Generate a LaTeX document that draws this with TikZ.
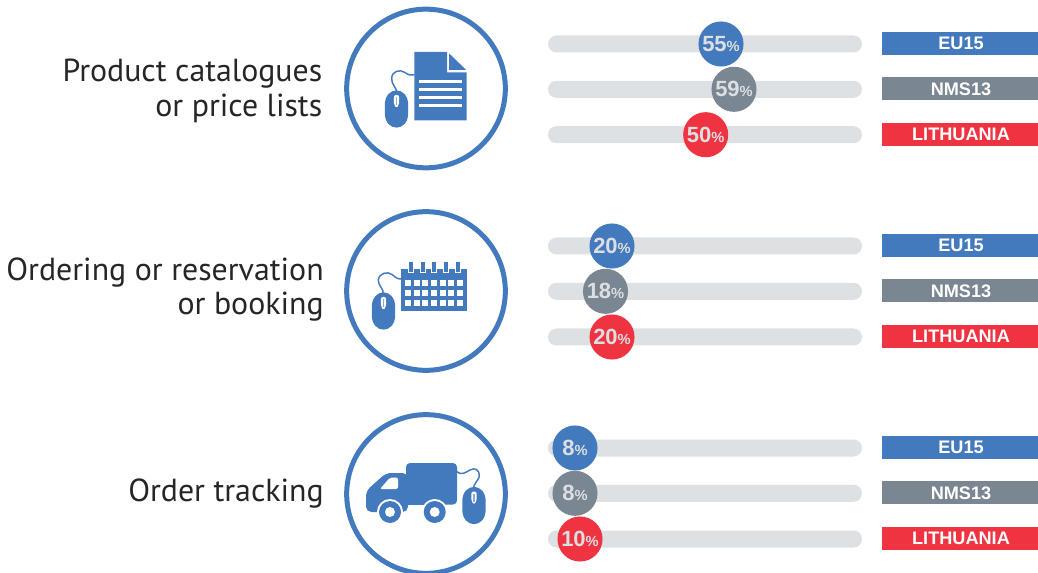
\documentclass[tikz,border=0pt]{standalone}
\usepackage{fontspec}
\setmainfont{Liberation Sans}
\newfontfamily\headf{PT Sans}
\definecolor{cblue}{HTML}{4379BD}
\definecolor{cgrey}{HTML}{7A8692}
\definecolor{cred}{HTML}{EF3340}
\definecolor{cbar}{HTML}{DEE1E4}
\definecolor{cpct}{HTML}{DCDFE2}
\tikzset{
 x=0.75pt,y=-0.75pt,
 ring/.style={circle,draw=cblue,line width=3.75pt,minimum size=119pt,inner sep=0pt},
 track/.style={fill=cbar,rounded corners=6.3pt},
 dot/.style={circle,minimum size=33.8pt,inner sep=0pt,text=cpct,font=\fontsize{16.5}{16.5}\selectfont\bfseries},
 tag/.style={minimum width=117pt,minimum height=17.25pt,inner sep=0pt,text=white,font=\fontsize{13.6}{13.6}\selectfont\bfseries},
 head/.style={align=right,anchor=east,inner sep=0pt,font=\headf\fontsize{23.9}{26}\selectfont,text=black!85},
 wire/.style={draw=cblue,line width=1.1pt},
}
\newcommand{\pctlabel}[1]{#1{\fontsize{11}{11}\selectfont\%}}
\newcommand{\barrow}[6]{%
 \fill[track] (548,#1-8.5) rectangle (862,#1+8.5);
 \node[dot,fill=#3] (#5) at (#2,#1) {\pctlabel{#4}};
 \node[tag,fill=#3] (#5t) at (960,#1-0.5) {\hspace*{1.5pt}#6};
}
\newcommand{\mouseicon}[2]{%
 \begin{scope}[shift={(#1,#2)}]
  \fill[cblue] (-11.7,-4) .. controls (-11.7,-23.5) and (11.7,-23.5) .. (11.7,-4) -- (11.7,4) .. controls (11.7,23.5) and (-11.7,23.5) .. (-11.7,4) -- cycle;
  \fill[white,rounded corners=1.5pt] (-2.6,-14) -- (2.6,-14) -- (2.6,-4) -- (0,-1) -- (-2.6,-4) -- cycle;
  \fill[cbar!50!cblue] (-0.8,-12) rectangle (0.8,-4);
 \end{scope}}
\begin{document}
\begin{tikzpicture}
\useasboundingbox (0,0) rectangle (1038,573);
% rings
\node[ring] (r1) at (426,88.5) {};
\node[ring] (r2) at (426,291) {};
\node[ring] (r3) at (426,494) {};
% headings
\node[head] (h1) at (322.5,91) {Product catalogues\\or price lists};
\node[head] (h2) at (324,289.5) {Ordering or reservation\\or booking};
\node[head] (h3) at (324,494) {Order tracking};
% rows
\barrow{44}{721}{cblue}{55}{a1}{EU15}
\barrow{89.3}{734}{cgrey}{59}{a2}{NMS13}
\barrow{134.7}{705.7}{cred}{50}{a3}{LITHUANIA}
\barrow{246}{612}{cblue}{20}{b1}{EU15}
\barrow{291.3}{605.5}{cgrey}{18}{b2}{NMS13}
\barrow{337}{612}{cred}{20}{b3}{LITHUANIA}
\barrow{448}{575}{cblue}{8}{c1}{EU15}
\barrow{493.3}{575}{cgrey}{8}{c2}{NMS13}
\barrow{539}{580}{cred}{10}{c3}{LITHUANIA}
% document icon
\fill[cblue] (414.3,52) -- (447,52) -- (447,72.5) -- (466.7,72.5) -- (466.7,120.5) -- (414.3,120.5) -- cycle;
\fill[cblue] (449,53.3) -- (466,69.8) -- (449,69.8) -- cycle;
\foreach \yy in {80,88,96,104} \fill[white] (419,\yy) rectangle (461.7,\yy+3.5);
\draw[wire] (396.7,93) .. controls (397,87) and (391,85) .. (391.7,78) .. controls (392,71) and (400,69) .. (405,72.5) .. controls (408,75) and (411,75.5) .. (414.5,75);
\mouseicon{396.5}{109}
% calendar icon
\fill[cblue] (401,269) rectangle (467,311);
\foreach \xx in {411,422.7,434,445.7,457.7} {
  \fill[white] (\xx-3,268) rectangle (\xx+3,273.5);
  \fill[cblue] (\xx-2,262) rectangle (\xx+2,272.5);
}
\foreach \yy in {282.7,293,303.3}
 \foreach \xx in {408,416.7,425.3,434,442.7,451.3,460}
  \fill[white] (\xx-3.1,\yy-3.1) rectangle (\xx+3.1,\yy+3.1);
\draw[wire] (383.3,295) .. controls (384,288) and (378,286) .. (378.3,280) .. controls (379,273) and (388,271) .. (392,274.5) .. controls (395,277) and (398,279.5) .. (401.5,279);
\mouseicon{383.5}{311}
% truck icon
\fill[cblue,rounded corners=3pt] (406,463) -- (457,463) -- (457,504.5) -- (406,504.5) -- cycle;
\fill[cblue,rounded corners=4pt] (408,473) -- (386,473) -- (366,491) -- (366,512) -- (408,512) -- cycle;
\fill[cblue] (400,496) rectangle (440,504.5);
\fill[white,rounded corners=1.5pt] (380,489) -- (390,477.5) -- (398,477.5) -- (398,489) -- cycle;
\foreach \xx in {390,434.7} {
  \fill[white] (\xx,512) circle (13);
  \fill[cblue] (\xx,512) circle (11);
  \fill[white] (\xx,512) circle (5);
}
\draw[wire] (456.7,471.5) .. controls (462,476) and (466,472) .. (470,470) .. controls (475,467) and (480,470) .. (479.3,476.7) .. controls (478,481) and (473,484) .. (473.5,490);
\mouseicon{474}{505.5}
\end{tikzpicture}
\end{document}
